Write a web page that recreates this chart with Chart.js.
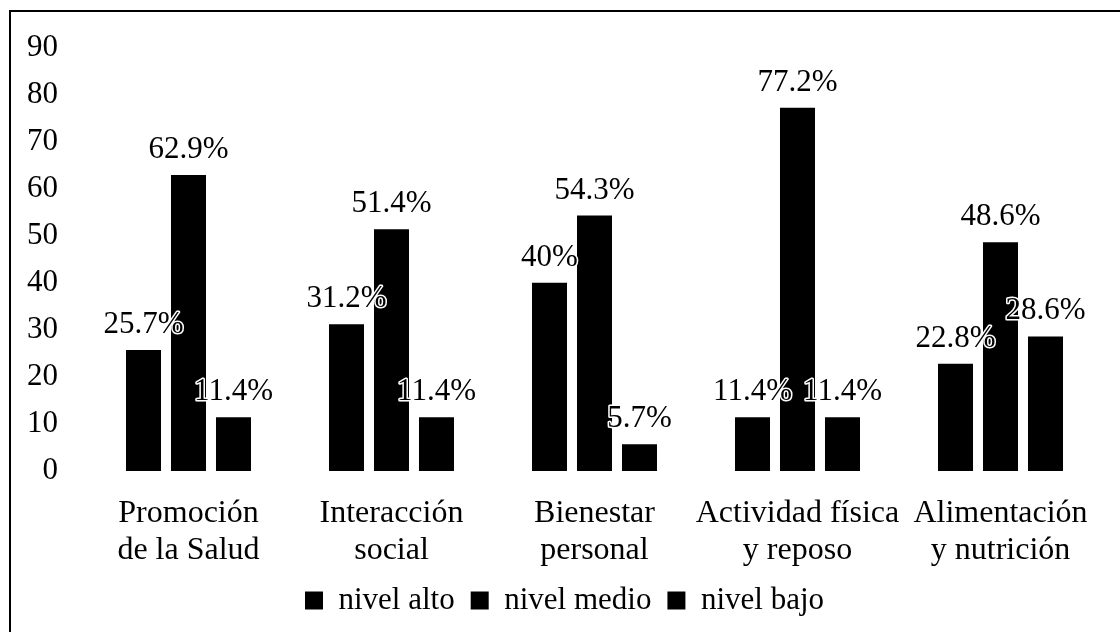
<!DOCTYPE html>
<html>
<head>
<meta charset="utf-8">
<script src="https://cdn.jsdelivr.net/npm/chart.js@4"></script>
<style>
  html, body { margin: 0; padding: 0; background: #fff; overflow: hidden; }
  #wrap { position: relative; width: 1120px; height: 632px; }
  #frame { position: absolute; left: 9px; top: 10px; width: 1200px; height: 700px;
           border-left: 2px solid #000; border-top: 2px solid #000; }
  canvas { position: absolute; left: 0; top: 0; }
</style>
</head>
<body>
<div id="wrap">
  <div id="frame"></div>
  <canvas id="myChart" width="1120" height="632"></canvas>
</div>
<script>
const categories = [
    ["Promoción", "de la Salud"],
    ["Interacción", "social"],
    ["Bienestar", "personal"],
    ["Actividad física", "y reposo"],
    ["Alimentación", "y nutrición"]
]
const nivel_alto = [25.7, 31.2, 40, 11.4, 22.8]
const nivel_medio = [62.9, 51.4, 54.3, 77.2, 48.6]
const nivel_bajo = [11.4, 11.4, 5.7, 11.4, 28.6]
const series_names = ["nivel alto", "nivel medio", "nivel bajo"]

const FONT = "'Liberation Serif', 'Times New Roman', serif"

// value labels above each bar, black text with a white halo
const barLabels = {
    id: 'barLabels',
    afterDatasetsDraw(chart) {
        const ctx = chart.ctx
        ctx.save()
        ctx.font = "31px " + FONT
        ctx.textAlign = 'center'
        ctx.textBaseline = 'alphabetic'
        ctx.lineJoin = 'round'
        chart.data.datasets.forEach((ds, i) => {
            chart.getDatasetMeta(i).data.forEach((bar, j) => {
                const txt = ds.data[j] + '%'
                ctx.lineWidth = 3
                ctx.strokeStyle = '#fff'
                ctx.strokeText(txt, bar.x, bar.y - 17)
                ctx.fillStyle = '#000'
                ctx.fillText(txt, bar.x, bar.y - 17)
            })
        })
        ctx.restore()
    }
}

Chart.defaults.color = '#000'
Chart.defaults.font.family = FONT

function makeSet(name, values){
    return {
        label: name,
        data: values,
        backgroundColor: '#000',
        borderWidth: 0,
        categoryPercentage: 0.665,
        barPercentage: 0.778
    }
}

var ctx = document.getElementById('myChart').getContext('2d')

var myChart = new Chart(ctx, {
    type: 'bar',
    data: {
        labels: categories,
        datasets: [
            makeSet(series_names[0], nivel_alto),
            makeSet(series_names[1], nivel_medio),
            makeSet(series_names[2], nivel_bajo)
        ]
    },
    plugins: [barLabels],
    options: {
        responsive: false,
        animation: false,
        layout: { padding: { left: 27, right: 18, top: 44, bottom: 6 } },
        plugins: {
            tooltip: { enabled: false },
            legend: {
                position: 'bottom',
                labels: {
                    boxWidth: 18,
                    boxHeight: 18,
                    padding: 16,
                    font: { size: 31, family: FONT }
                }
            }
        },
        scales: {
            x: {
                grid: { display: false, drawTicks: false },
                border: { display: false },
                ticks: {
                    padding: 24,
                    maxRotation: 0,
                    autoSkip: false,
                    font: { size: 32, family: FONT, lineHeight: 1.15 }
                },
                afterFit(scale) { scale.height = 98 }
            },
            y: {
                min: 0,
                max: 90,
                grid: { display: false, drawTicks: false },
                border: { display: false },
                ticks: {
                    stepSize: 10,
                    padding: 29,
                    font: { size: 31, family: FONT }
                },
                afterFit(scale) { scale.width = 60 }
            }
        }
    }
})
</script>
</body>
</html>
